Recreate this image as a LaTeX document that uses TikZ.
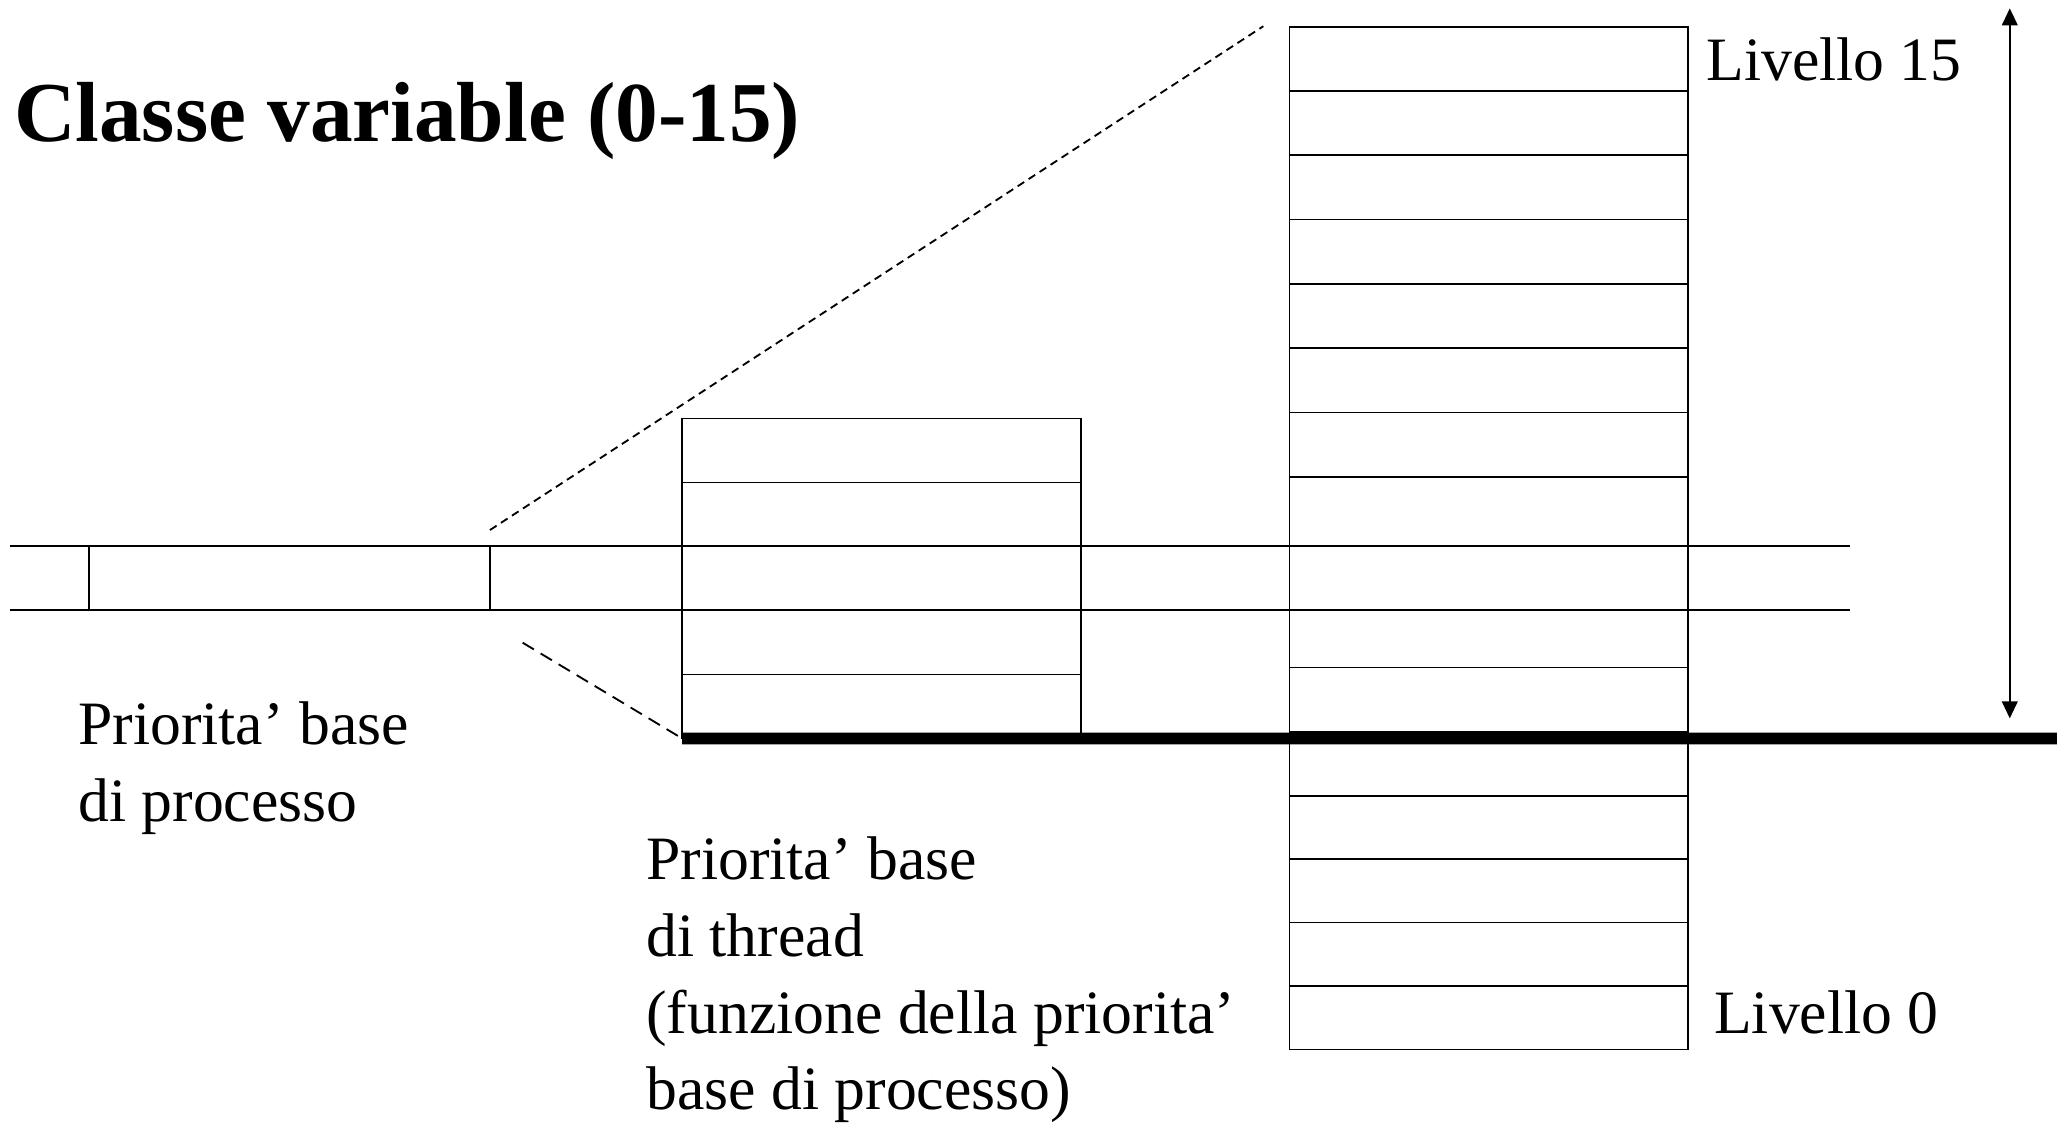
\documentclass[tikz,border=0pt]{standalone}
\usepackage{fontspec}
\setmainfont{Liberation Serif}
\usetikzlibrary{positioning, arrows.meta}
\tikzset{
  cella/.style={draw, line width=1.4pt, minimum width=304pt, minimum height=48.78pt, inner sep=0pt, outer sep=0pt},
  testo/.style={font=\fontsize{47}{58.5}\selectfont, align=left, anchor=base west, inner sep=0pt},
}

\begin{document}
\begin{tikzpicture}[x=1pt, y=-1pt, line width=1.4pt]
  \useasboundingbox (0,0) rectangle (1568,859);
  \node[font=\fontsize{65}{70}\selectfont\bfseries, anchor=base west, inner sep=0pt] (titolo) at (10,108) {Classe variable (0-15)};

  % livelli della classe variabile (basso/alto di ogni livello)
  \foreach \i/\b/\t in {0/800/751.6, 1/751.6/703.2, 2/703.2/654.9, 3/654.9/606.5,
                        4/606.5/558.1, 5/558.1/508.8, 6/508.8/465.3, 7/465.3/416.5,
                        8/416.5/363.4, 9/363.4/314.4, 10/314.4/265.3, 11/265.3/216.3,
                        12/216.3/167.3, 13/167.3/118.3, 14/118.3/69.3, 15/69.3/20.3}
    \node[cella, minimum height={\b pt-\t pt}] (liv\i) at (1135, {(\b+\t)/2}) {};

  % priorita' base di thread
  \foreach \k in {1,...,5}
    \node[cella] (thr\k) at (672, {538.5-(\k-1)*48.78}) {};

  % priorita' base di processo
  \node[cella, minimum width=305.5pt] (proc) at (220.75,440.9) {};
  \coordinate (sx1) at (8,416.5);
  \coordinate (dx1) at (1410,416.5);
  \coordinate (sx2) at (8,465.3);
  \coordinate (dx2) at (1410,465.3);
  \draw (sx1) -- (dx1);
  \draw (sx2) -- (dx2);

  % linea di base
  \coordinate (fine) at (1568,562.9);
  \draw[line width=9pt] (thr1.south west) -- (fine);

  % proiezione
  \coordinate (ds1) at (373.5,404);
  \coordinate (ds2) at (963,20);
  \coordinate (ds3) at (398.4,489.9);
  \draw[dash pattern=on 6pt off 4pt] (ds1) -- (ds2);
  \draw[dash pattern=on 10pt off 6pt] (ds3) -- (thr1.south west);

  % intervallo dei livelli
  \coordinate (su) at (1532,6.4);
  \coordinate (giu) at (1532,547.6);
  \draw[{Triangle[length=13pt,width=12pt]}-{Triangle[length=13pt,width=12pt]}] (su) -- (giu);

  \node[testo] (l15) at (1300,61) {Livello 15};
  \node[testo] (l0) at (1306,788) {Livello 0};
  \node[testo] (pbp) at (59,626) {Priorita’ base\\di processo};
  \node[testo] (pbt) at (492,846) {Priorita’ base\\di thread\\(funzione della priorita’\\base di processo)};
\end{tikzpicture}
\end{document}
